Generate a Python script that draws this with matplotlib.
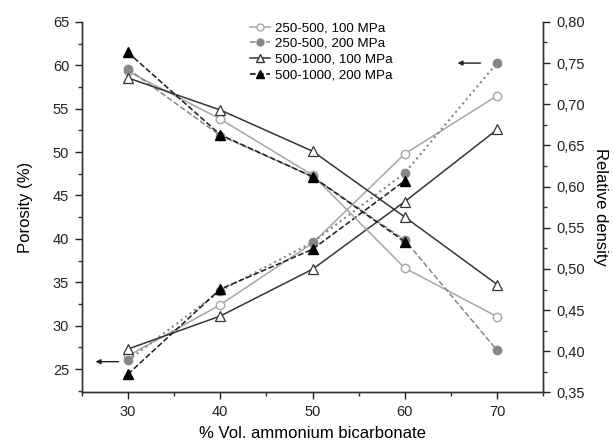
import matplotlib
matplotlib.use("Agg")
import matplotlib.pyplot as plt
from matplotlib.ticker import MultipleLocator, FuncFormatter
from matplotlib.lines import Line2D

plt.rcParams['font.family'] = ['Liberation Sans', 'DejaVu Sans']

# x positions (% vol. ammonium bicarbonate)
x_all = [30, 40, 50, 60, 70]
x_short = [30, 40, 50, 60]

labels = ["250-500, 100 MPa", "250-500, 200 MPa",
          "500-1000, 100 MPa", "500-1000, 200 MPa"]

# porosity (%) - left axis, rising curves
por_250_100 = [26.5, 32.4, 39.5, 49.8, 56.5]
por_250_200 = [26.0, 34.0, 39.6, 47.6, 60.3]
por_500_100 = [27.3, 31.1, 36.5, 44.3, 52.6]
por_500_200 = [24.4, 34.2, 38.8, 46.7]

# relative density - right axis, falling curves
rd_250_100 = [0.740, 0.682, 0.614, 0.501, 0.442]
rd_250_200 = [0.743, 0.662, 0.612, 0.535, 0.401]
rd_500_100 = [0.732, 0.693, 0.643, 0.563, 0.481]
rd_500_200 = [0.763, 0.663, 0.612, 0.533]

light = '#a6a6a6'
mid = '#878787'
dark = '#353535'

fig = plt.figure(figsize=(6.14, 4.46), dpi=100)
ax = fig.add_axes([0.133, 0.120, 0.752, 0.831])
ax2 = ax.twinx()

ms_c = 6
ms_t = 7

# porosity curves
ax.plot(x_all, por_250_100, '-', color=light, lw=1.1, marker='o', ms=ms_c,
        mfc='white', mec=light, mew=1.0)
ax.plot(x_all, por_250_200, ':', color=mid, lw=1.5, marker='o', ms=ms_c,
        mfc=mid, mec=mid)
ax.plot(x_all, por_500_100, '-', color=dark, lw=1.1, marker='^', ms=ms_t,
        mfc='white', mec=dark, mew=0.9)
ax.plot(x_short, por_500_200, '--', color='#1a1a1a', lw=1.1, marker='^', ms=ms_t,
        mfc='black', mec='black')

# relative density curves
ax2.plot(x_all, rd_250_100, '-', color=light, lw=1.1, marker='o', ms=ms_c,
         mfc='white', mec=light, mew=1.0)
ax2.plot(x_all, rd_250_200, '--', color=mid, lw=1.1, marker='o', ms=ms_c,
         mfc=mid, mec=mid)
ax2.plot(x_all, rd_500_100, '-', color=dark, lw=1.1, marker='^', ms=ms_t,
         mfc='white', mec=dark, mew=0.9)
ax2.plot(x_short, rd_500_200, '--', color='#1a1a1a', lw=1.1, marker='^', ms=ms_t,
         mfc='black', mec='black')

# arrows pointing to the axis each curve set belongs to
arrow = dict(arrowstyle='-|>', color='#222222', lw=1.0, mutation_scale=7)
ax.annotate('', xy=(26.2, 25.85), xytext=(29.3, 25.85), arrowprops=arrow)
ax.annotate('', xy=(65.4, 60.25), xytext=(68.5, 60.25), arrowprops=arrow)

ax.set_xlim(25, 75)
ax.set_ylim(22.3, 65)
ax2.set_ylim(0.35, 0.80)

ax.xaxis.set_major_locator(MultipleLocator(10))
ax.xaxis.set_minor_locator(MultipleLocator(5))
ax.yaxis.set_major_locator(MultipleLocator(5))
ax.yaxis.set_minor_locator(MultipleLocator(2.5))
ax2.yaxis.set_major_locator(MultipleLocator(0.05))
ax2.yaxis.set_minor_locator(MultipleLocator(0.025))
ax2.yaxis.set_major_formatter(FuncFormatter(lambda v, p: f"{v:.2f}".replace('.', ',')))

for a in (ax, ax2):
    a.spines['top'].set_visible(False)
    for s in a.spines.values():
        s.set_color('#333333')
        s.set_linewidth(1.0)
    a.tick_params(which='major', direction='out', length=5, width=1.0,
                  labelsize=10.5, colors='#222222', pad=4)
    a.tick_params(which='minor', direction='out', length=3, width=1.0,
                  colors='#333333')

ax.set_xlabel('% Vol. ammonium bicarbonate', fontsize=12, labelpad=5)
ax.set_ylabel('Porosity (%)', fontsize=12, labelpad=14)
ax2.set_ylabel('Relative density', fontsize=12, rotation=270, labelpad=17)

handles = [
    Line2D([], [], color=light, lw=1.1, marker='o', ms=5, mfc='white', mec=light),
    Line2D([], [], color=mid, lw=1.1, ls='--', marker='o', ms=5, mfc=mid, mec=mid),
    Line2D([], [], color=dark, lw=1.1, marker='^', ms=5.5, mfc='white', mec=dark),
    Line2D([], [], color='black', lw=1.1, ls='--', marker='^', ms=5.5, mfc='black', mec='black'),
]
ax2.legend(handles, labels, loc='upper left', bbox_to_anchor=(0.345, 1.025),
           frameon=False, fontsize=9.6, handlelength=1.5, handletextpad=0.35,
           labelspacing=0.25, borderpad=0.2, markerfirst=True)

fig.savefig('out.png', dpi=100)
